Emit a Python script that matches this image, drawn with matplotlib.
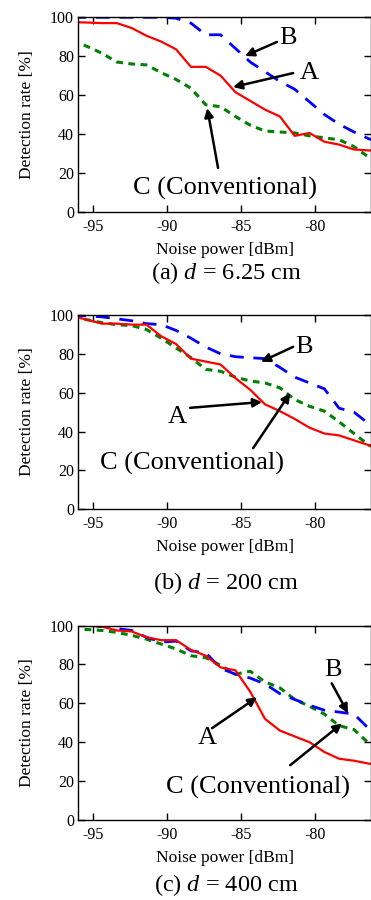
import matplotlib
matplotlib.use('Agg')
import matplotlib.pyplot as plt

plt.rcParams['font.family'] = ['Liberation Serif', 'DejaVu Serif']
plt.rcParams['mathtext.fontset'] = 'custom'
plt.rcParams['mathtext.rm'] = 'Liberation Serif'
plt.rcParams['mathtext.it'] = 'Liberation Serif:italic'
plt.rcParams['axes.unicode_minus'] = False

# noise power [dBm] at which the rates were measured
noise = [-96.4, -95.4, -94.4, -93.4, -92.4, -91.4, -90.4, -89.4, -88.4, -87.4, -86.4,
         -85.4, -84.4, -83.4, -82.4, -81.4, -80.4, -79.4, -78.4, -77.4, -76.4, -75.4]

# (a) d = 6.25 cm
a_A = [97.5, 97.3, 97, 97, 94.5, 90.5, 87.5, 83.5, 74.5, 74.5, 70,
       61.5, 57, 52.5, 49, 39, 40.5, 36, 34.5, 32, 31.5, 31.5]
a_B = [100, 100, 100, 100, 100, 100, 100, 99.5, 97, 91, 91,
       84, 77, 72, 67, 63, 56.5, 50, 45, 41, 37.5, 35]
a_C = [88, 85, 81.5, 77, 76, 75.5, 71.5, 68, 63.5, 55, 54,
       49, 44.5, 41.5, 41, 40.5, 39, 38, 37, 33.5, 28, 25]

# (b) d = 200 cm
b_A = [99.5, 97.5, 95.5, 95.5, 95, 95, 89, 85, 77.5, 76, 74.5,
       67.5, 61.5, 54, 50.5, 46.5, 42, 39, 38, 35.5, 33, 31]
b_B = [100, 99.5, 99, 98, 97, 95.5, 95, 92, 88, 83.5, 80,
       78.5, 78, 77.5, 73, 68, 65, 62, 52, 50, 44, 40]
b_C = [98.5, 97.5, 96, 95, 94.5, 92.5, 88, 83, 78, 72, 71,
       68, 66, 65, 62.5, 56.5, 53, 50.5, 45, 39, 33, 30]

# (c) d = 400 cm
c_A = [100, 100, 99.5, 97.5, 97, 94, 92.5, 92.5, 87.5, 84.5, 78.5,
       77, 66, 52, 46, 43, 40, 35, 31.5, 30.5, 29, 28]
c_B = [100, 100, 99.5, 98.5, 97.5, 94, 91.5, 92, 87, 86, 78,
       75, 73, 70, 65, 62, 59, 56.5, 55.5, 54.5, 47, 42]
c_C = [98, 98, 97.5, 96.5, 95, 93, 90.5, 88, 84.5, 83.5, 79.5,
       75, 76.5, 71, 68, 62, 58.5, 54.5, 48.5, 46.5, 39.5, 36]

captions = ['(a) $d$ = 6.25 cm', '(b) $d$ = 200 cm', '(c) $d$ = 400 cm']

# label text positions and arrows (tail, head) per panel
labels = [
    {'B': (-81.85, 89.3), 'A': (-80.4, 71.3), 'C': (-86.1, 12.2)},
    {'B': (-80.8, 83.6), 'A': (-89.3, 47.5), 'C': (-88.3, 23.8)},
    {'B': (-78.8, 76.9), 'A': (-87.3, 42.1), 'C': (-83.9, 16.9)},
]
arrows = [
    [((-82.6, 87.3), (-84.75, 80.1)), ((-81.5, 71.3), (-85.56, 64.1)), ((-86.57, 22.5), (-87.3, 53.3))],
    [((-81.5, 83.6), (-83.67, 75.9)), ((-88.46, 52.2), (-83.6, 55.2)), ((-84.2, 31.5), (-81.7, 59.8))],
    [((-78.9, 70.3), (-77.8, 54.9)), ((-86.98, 47.2), (-83.94, 63.1)), ((-81.7, 28.2), (-78.2, 49.7))],
]

panels = [(a_A, a_B, a_C), (b_A, b_B, b_C), (c_A, c_B, c_C)]
# axes bottoms in figure fraction, and caption drop below each axes
bottoms = [0.7648, 0.4341, 0.0889]
cap_drop = [0.068, 0.082, 0.0725]
height = 0.216

fig = plt.figure(figsize=(3.71, 9.0), dpi=100)

for i in range(3):
    ax = fig.add_axes([0.211, bottoms[i], 0.789, height])
    A, B, C = panels[i]
    ax.plot(noise, C, color='#008000', lw=2.2, dashes=(2.2, 1.8))
    ax.plot(noise, B, color='#0000ff', lw=2.0, dashes=(5, 3.5))
    ax.plot(noise, A, color='#ff0000', lw=1.6)
    ax.set_xlim(-96.0, -76.25)
    ax.set_ylim(0, 100)
    ax.set_xticks([-95, -90, -85, -80])
    ax.set_yticks([0, 20, 40, 60, 80, 100])
    ax.tick_params(direction='in', length=5, width=1, top=True, right=True,
                   labelsize=11.5)
    ax.tick_params(axis='y', pad=3)
    ax.tick_params(axis='x', pad=5)
    for s in ax.spines.values():
        s.set_linewidth(1.0)
    ax.set_xlabel('Noise power [dBm]', fontsize=12.5, labelpad=5)
    ax.set_ylabel('Detection rate [%]', fontsize=12.5, labelpad=11)

    for key in ['A', 'B', 'C']:
        txt = 'C (Conventional)' if key == 'C' else key
        ax.text(labels[i][key][0], labels[i][key][1], txt, fontsize=19,
                ha='center', va='center')
    for tail, head in arrows[i]:
        ax.annotate('', xy=head, xytext=tail,
                    arrowprops=dict(arrowstyle='-|>', color='black', lw=1.8,
                                    mutation_scale=13, shrinkA=0, shrinkB=0))

    fig.text(0.61, bottoms[i] - cap_drop[i], captions[i], fontsize=17.5,
             ha='center', va='center')

fig.savefig('out.png', dpi=100)
